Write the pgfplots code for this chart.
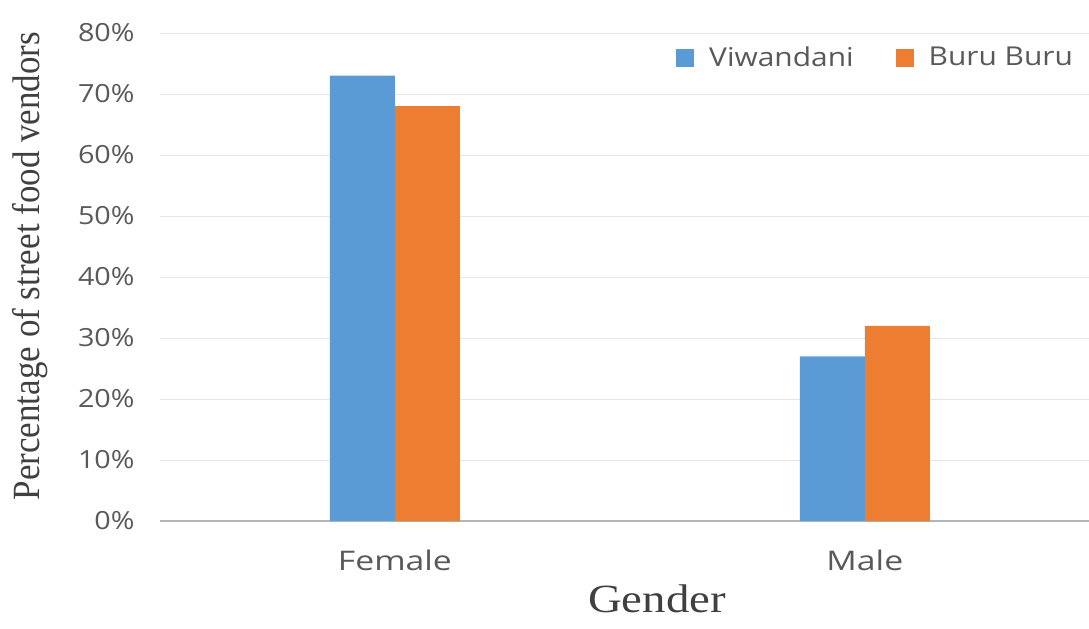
\documentclass[border=0pt]{standalone}
\usepackage{fontspec}
\usepackage{graphicx}
\usepackage{pgfplots}
\pgfplotsset{compat=1.18}
\setmainfont{Liberation Serif}
\newfontfamily\labelsans{Open Sans}
\definecolor{viwblue}{HTML}{5B9BD5}
\definecolor{buruorange}{HTML}{ED7D31}
\definecolor{ticktext}{HTML}{595959}
\definecolor{titletext}{HTML}{404040}
\definecolor{gridgray}{HTML}{E6E6E6}
\definecolor{basegray}{HTML}{B5B5B5}
\newcommand\ts[1]{\scalebox{1.15}[1]{#1}}
\newcommand\tx[1]{\scalebox{1.25}[1]{#1}}
\begin{document}
\begin{tikzpicture}
\useasboundingbox (-80pt,-53.5pt) rectangle (464.5pt,260.5pt);
\begin{axis}[
  scale only axis,
  width=464.5pt, height=244pt,
  ybar=0pt, bar width=32.5pt,
  xmin=-0.5, xmax=1.477,
  ymin=0, ymax=80,
  xtick={0,1}, xticklabels={\tx{Female},\tx{Male}},
  ytick={0,10,...,80},
  yticklabels={\ts{0\%},\ts{10\%},\ts{20\%},\ts{30\%},\ts{40\%},\ts{50\%},\ts{60\%},\ts{70\%},\ts{80\%}},
  tick style={draw=none},
  major tick length=0pt,
  axis x line*=bottom, axis y line*=left,
  y axis line style={draw=none},
  x axis line style={draw=basegray, line width=1pt},
  ymajorgrids, grid style={draw=gridgray, line width=0.5pt},
  yticklabel style={font=\labelsans\fontsize{12.5}{15}\selectfont, text=ticktext, inner sep=0pt, anchor=east, xshift=-12.5pt},
  xticklabel style={font=\labelsans\fontsize{13.5}{16}\selectfont, text=ticktext, inner sep=0pt, anchor=base, yshift=-24.5pt},
  every axis y label/.style={at={(axis description cs:-0.1399,0.5225)}, rotate=90, anchor=center},
  ylabel={\fontsize{17.5}{20}\selectfont\color{titletext}\scalebox{1}[1.1]{Percentage of street food vendors}},
  every axis x label/.style={at={(axis description cs:0.535,-0.1865)}, anchor=base},
  xlabel={\fontsize{20}{24}\selectfont\color{titletext}\scalebox{1.17}[1]{Gender}},
  legend columns=2,
  legend image code/.code={\fill[#1,draw=none] (0pt,-4.5pt) rectangle (9pt,4.5pt);},
  legend style={draw=none, fill=none, inner sep=0pt, outer sep=0pt,
    at={(rel axis cs:0.9828,0.9488)}, anchor=east,
    font=\labelsans\fontsize{13}{15}\selectfont, text=ticktext,
    nodes={inner sep=0pt},
    /tikz/every odd column/.append style={column sep=7.5pt},
    /tikz/every even column/.append style={column sep=21pt}},
]
\addplot[fill=viwblue, draw=none] coordinates {(0,73) (1,27)};
\addplot[fill=buruorange, draw=none] coordinates {(0,68) (1,32)};
\legend{\ts{Viwandani},\ts{Buru Buru}}
\end{axis}
\end{tikzpicture}
\end{document}
